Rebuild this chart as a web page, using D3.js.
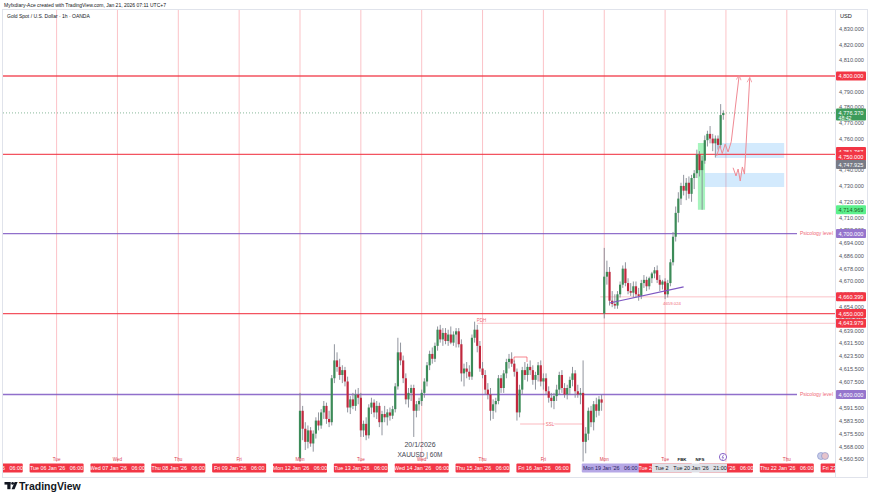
<!DOCTYPE html>
<html>
<head>
<meta charset="utf-8">
<style>
  body { margin: 0; background: #fff; }
  svg { display: block; font-family: "Liberation Sans", Arial, sans-serif; }
</style>
</head>
<body>
<script src="https://cdnjs.cloudflare.com/ajax/libs/d3/7.8.5/d3.min.js"></script>
<script>
// XAUUSD 1h candles, [open, high, low, close]; each day starts at 06:00
var mon12 = [
  [4561,4601,4559,4590],[4590,4593,4572,4579],[4579,4583,4566,4571],[4571,4581,4567,4578],
  [4578,4580,4568,4570],[4570,4578,4565,4576],[4576,4586,4573,4584],[4584,4589,4578,4581],
  [4581,4591,4579,4589],[4589,4596,4585,4593],[4593,4595,4582,4585],[4585,4590,4580,4583],
  [4583,4612,4581,4610],[4610,4631,4607,4621],[4621,4626,4614,4617],[4617,4622,4609,4612],
  [4612,4618,4607,4615],[4615,4617,4605,4608],[4608,4611,4589,4592],[4592,4599,4588,4597],
  [4597,4601,4591,4593],[4593,4603,4590,4600],[4600,4604,4594,4598]
];
var tue13 = [
  [4598,4601,4574,4578],[4578,4584,4574,4582],[4582,4586,4572,4575],[4575,4594,4573,4592],
  [4592,4598,4588,4595],[4595,4597,4586,4589],[4589,4596,4585,4593],[4593,4595,4580,4583],
  [4583,4590,4575,4588],[4588,4593,4583,4586],[4586,4591,4581,4589],[4589,4592,4584,4587],
  [4587,4593,4585,4591],[4591,4607,4589,4605],[4605,4635,4603,4626],[4626,4632,4618,4621],
  [4621,4624,4607,4610],[4610,4613,4594,4597],[4597,4604,4592,4601],[4601,4606,4596,4604],
  [4604,4606,4574,4590],[4590,4596,4586,4594],[4594,4598,4590,4596]
];
var wed14 = [
  [4596,4603,4593,4601],[4601,4610,4598,4608],[4608,4620,4605,4618],[4618,4627,4615,4625],
  [4625,4629,4619,4622],[4622,4632,4620,4630],[4630,4642,4627,4640],[4640,4643,4632,4634],
  [4634,4641,4630,4638],[4638,4641,4631,4633],[4633,4640,4630,4637],[4637,4642,4631,4632],
  [4632,4639,4630,4637],[4637,4641,4629,4639],[4639,4641,4629,4631],[4631,4634,4608,4613],
  [4613,4619,4605,4616],[4616,4620,4610,4614],[4614,4618,4609,4611],[4611,4637,4609,4635],
  [4635,4645,4632,4640],[4640,4643,4626,4630],[4630,4633,4614,4616]
];
var thu15 = [
  [4616,4620,4610,4612],[4612,4615,4600,4603],[4603,4607,4597,4600],[4600,4604,4584,4590],
  [4590,4597,4585,4594],[4594,4598,4589,4596],[4596,4612,4594,4610],[4610,4612,4601,4604],
  [4604,4615,4601,4613],[4613,4622,4610,4620],[4620,4625,4616,4622],[4622,4626,4617,4619],
  [4619,4621,4611,4614],[4614,4616,4584,4589],[4589,4606,4586,4603],[4603,4617,4600,4615],
  [4615,4620,4609,4612],[4612,4619,4608,4617],[4617,4621,4612,4615],[4615,4618,4606,4609],
  [4609,4614,4603,4612],[4612,4620,4608,4618],[4618,4621,4605,4608]
];
var fri16 = [
  [4608,4613,4603,4610],[4610,4613,4600,4602],[4602,4605,4595,4598],[4598,4601,4592,4596],
  [4596,4601,4591,4599],[4599,4606,4596,4603],[4603,4614,4600,4612],[4612,4615,4601,4604],
  [4604,4607,4598,4600],[4600,4606,4597,4604],[4604,4611,4600,4609],[4609,4617,4605,4613],
  [4613,4615,4598,4602],[4602,4606,4598,4600],[4600,4604,4594,4601],[4601,4621,4559,4571],
  [4571,4580,4564,4576],[4576,4592,4572,4590],[4590,4593,4580,4583],[4583,4596,4578,4594],
  [4594,4598,4586,4590],[4590,4599,4587,4597],[4597,4600,4590,4595]
];
var mon19 = [
  [4650,4691,4647,4673],[4673,4683,4668,4676],[4676,4679,4655,4658],[4658,4664,4654,4656],
  [4656,4662,4653,4655],[4655,4664,4653,4662],[4662,4670,4660,4668],[4668,4680,4666,4678],
  [4678,4682,4667,4669],[4669,4672,4662,4664],[4664,4669,4661,4663],[4663,4670,4660,4667],
  [4667,4670,4660,4662],[4662,4666,4658,4661],[4661,4671,4659,4669],[4669,4674,4666,4671],
  [4671,4673,4664,4667],[4667,4673,4665,4672],[4672,4676,4669,4675],[4675,4679,4672,4677],
  [4677,4680,4669,4671],[4671,4674,4664,4668],[4668,4671,4665,4670]
];
var tue20 = [
  [4670,4672,4659,4662],[4662,4671,4660,4669],[4669,4684,4667,4682],[4682,4701,4680,4698],
  [4698,4717,4695,4713],[4713,4726,4707,4722],[4722,4732,4718,4730],[4730,4737,4724,4727],
  [4727,4735,4721,4732],[4732,4736,4722,4725],[4725,4737,4720,4735],[4735,4740,4728,4738],
  [4738,4753,4735,4750],[4750,4752,4736,4740],[4740,4749,4714.969,4746],[4746,4762,4744,4759],
  [4759,4765,4755,4763],[4763,4768,4757,4760],[4760,4763,4752,4757],[4757,4762,4748,4760],
  [4760,4762,4753,4756],[4756,4782,4754,4775],[4775,4778,4772,4776.37]
];
var tradingDays = [mon12, tue13, wed14, thu15, fri16, mon19, tue20];

// time axis: day offset from Mon 12 Jan, label
var dayOffsets = [-5, -4, -3, -2, -1, 0, 1, 2, 3, 4, 5, 6, 7, 8, 9];
var dayDates = ["Mon 05 Jan '26", "Tue 06 Jan '26", "Wed 07 Jan '26", "Thu 08 Jan '26", "Fri 09 Jan '26",
  "Mon 12 Jan '26", "Tue 13 Jan '26", "Wed 14 Jan '26", "Thu 15 Jan '26", "Fri 16 Jan '26",
  "Mon 19 Jan '26", "Tue 20 Jan '26", "Wed 21 Jan '26", "Thu 22 Jan '26", "Fri 23 Jan '26"];
var dayNames = ["", "Tue", "Wed", "Thu", "Fri", "Mon", "Tue", "Wed", "Thu", "Fri", "Mon", "Tue", "", "Thu", ""];

// price axis
var priceTicks = [4830, 4820, 4810, 4800, 4790, 4780, 4770, 4760, 4750, 4740, 4730, 4720, 4710, 4702,
  4694, 4686, 4678, 4670, 4662, 4654, 4646.5, 4639, 4631.5, 4623.5, 4615.5, 4607.5, 4599.5,
  4591.5, 4583.5, 4575.5, 4568, 4560.5];
var redLevels = [4800, 4750, 4650];
var purpleLevels = [4700, 4600];
var axisLabels = [
  { price: 4800, text: "4,800.000", kind: "red" },
  { price: 4776.37, text: "4,776.370", sub: "48:42", kind: "last" },
  { price: 4751.767, text: "4,751.767", kind: "red" },
  { price: 4750, text: "4,750.000", kind: "red" },
  { price: 4747.925, text: "4,747.925", kind: "gray" },
  { price: 4714.969, text: "4,714.969", kind: "lime" },
  { price: 4700, text: "4,700.000", kind: "purple" },
  { price: 4660.399, text: "4,660.399", kind: "red" },
  { price: 4650, text: "4,650.000", kind: "red" },
  { price: 4643.979, text: "4,643.979", kind: "red" },
  { price: 4600, text: "4,600.000", kind: "purple" }
];

// drawings, in [bar index, price]
var zones = [[157, 183, 4747.7, 4757.2], [153, 183, 4729.3, 4738.2]];
var pathUp1 = [[157.5, 4749], [158.7, 4755.5], [159.6, 4750.5], [160.7, 4756.5], [161.8, 4751.5], [163, 4758], [166, 4800.5]];
var pathUp2 = [[163.7, 4741.5], [164.8, 4736.3], [165.6, 4740.7], [166.4, 4733.1], [167.2, 4742], [168, 4737.5], [170, 4799]];
var trendLine = [[117, 4656.6], [145, 4666.6]];

var W = 870, H = 497;
var plotL = 3, plotR = 835, plotT = 10, plotB = 462;
var RED = "#f23645", PURPLE = "#7e57c2", UP = "#3c8b58", DOWN = "#c1283e", WICK = "#858993";

var x = d3.scaleLinear().domain([0, 23]).range([300, 360.85]);
var y = d3.scaleLog().domain([4558.7, 4843.8]).range([462, 8]);

var svg = d3.select("body").append("svg").attr("width", W).attr("height", H);
svg.append("rect").attr("width", W).attr("height", H).attr("fill", "#fff");

var defs = svg.append("defs");
defs.append("clipPath").attr("id", "plot").append("rect")
  .attr("x", plotL).attr("y", plotT).attr("width", plotR - plotL).attr("height", plotB - plotT);
defs.append("clipPath").attr("id", "taxis").append("rect")
  .attr("x", plotL).attr("y", plotT).attr("width", plotR - plotL).attr("height", 470);
defs.append("marker").attr("id", "arr").attr("viewBox", "0 0 10 10").attr("refX", 9).attr("refY", 5)
  .attr("markerWidth", 6).attr("markerHeight", 6).attr("orient", "auto")
  .append("path").attr("d", "M1,1 L9,5 L1,9").attr("fill", "none").attr("stroke", "#f08a94").attr("stroke-width", 1.2);

// frame
svg.append("rect").attr("x", 2.5).attr("y", 9.5).attr("width", 865).attr("height", 468)
  .attr("fill", "none").attr("stroke", "#e0e3eb");
svg.append("line").attr("x1", plotR + 0.5).attr("x2", plotR + 0.5).attr("y1", 10).attr("y2", 477)
  .attr("stroke", "#e0e3eb");

// header
svg.append("text").attr("x", 4).attr("y", 6.5).attr("font-size", 5).attr("fill", "#131722")
  .text("Myfxdiary-Ace created with TradingView.com, Jan 21, 2026 07:11 UTC+7");

var plot = svg.append("g").attr("clip-path", "url(#plot)");

// day separators at 06:00
plot.selectAll(".vday").data(dayOffsets).enter().append("line")
  .attr("x1", function(d) { return x(d * 23); }).attr("x2", function(d) { return x(d * 23); })
  .attr("y1", plotT).attr("y2", plotB)
  .attr("stroke", "rgba(242,54,69,0.3)").attr("stroke-width", 1);

plot.append("text").attr("x", 7).attr("y", 18).attr("font-size", 5).attr("fill", "#131722")
  .text("Gold Spot / U.S. Dollar \u00b7 1h \u00b7 OANDA");

// zones
plot.selectAll(".zone").data(zones).enter().append("rect")
  .attr("x", function(d) { return x(d[0]); })
  .attr("width", function(d) { return x(d[1]) - x(d[0]); })
  .attr("y", function(d) { return y(d[3]); })
  .attr("height", function(d) { return y(d[2]) - y(d[3]); })
  .attr("fill", "rgba(33,150,243,0.2)");

// highlighted sweep candle
plot.append("rect").attr("x", x(150.4)).attr("width", x(153.1) - x(150.4))
  .attr("y", y(4757.2)).attr("height", y(4714.969) - y(4757.2))
  .attr("fill", "rgba(60,230,110,0.45)");

// horizontal levels
plot.selectAll(".red").data(redLevels).enter().append("line")
  .attr("x1", plotL).attr("x2", plotR)
  .attr("y1", function(d) { return y(d); }).attr("y2", function(d) { return y(d); })
  .attr("stroke", RED).attr("stroke-width", 1.3).attr("opacity", 0.85);
plot.selectAll(".pur").data(purpleLevels).enter().append("line")
  .attr("x1", plotL).attr("x2", 797)
  .attr("y1", function(d) { return y(d); }).attr("y2", function(d) { return y(d); })
  .attr("stroke", PURPLE).attr("stroke-width", 1.3).attr("opacity", 0.85);
svg.selectAll(".purtxt").data(purpleLevels).enter().append("text")
  .attr("x", 833).attr("y", function(d) { return y(d) + 1.8; }).attr("text-anchor", "end")
  .attr("font-size", 5).attr("fill", "#ef6a78").text("Psicology level");

// thin rays
plot.append("line").attr("x1", x(113.5)).attr("x2", plotR).attr("y1", y(4660.399)).attr("y2", y(4660.399))
  .attr("stroke", "rgba(242,54,69,0.3)");
plot.append("line").attr("x1", x(67)).attr("x2", plotR).attr("y1", y(4643.979)).attr("y2", y(4643.979))
  .attr("stroke", "rgba(242,54,69,0.3)");
plot.append("text").attr("x", x(68.6)).attr("y", y(4643.979) - 1.5).attr("font-size", 4.5)
  .attr("fill", "#ef6a78").attr("text-anchor", "middle").text("PDH");
plot.append("line").attr("x1", x(83.2)).attr("x2", x(107)).attr("y1", y(4581.9)).attr("y2", y(4581.9))
  .attr("stroke", "rgba(242,54,69,0.35)");
plot.append("text").attr("x", x(94.5)).attr("y", y(4581.9) + 1.6).attr("font-size", 4.5)
  .attr("fill", "#ef6a78").attr("text-anchor", "middle").attr("stroke", "#fff").attr("stroke-width", 2)
  .attr("paint-order", "stroke").text("SSL");
plot.append("path")
  .attr("d", "M" + x(80.9) + "," + y(4620) + "V" + y(4623.1) + "H" + x(85.8) + "V" + y(4620))
  .attr("fill", "none").attr("stroke", "rgba(242,54,69,0.6)");

// dotted last price line
plot.append("line").attr("x1", plotL).attr("x2", plotR).attr("y1", y(4776.37)).attr("y2", y(4776.37))
  .attr("stroke", "#3c8b58").attr("stroke-dasharray", "1,2").attr("opacity", 0.6);

// candles
var candles = [];
tradingDays.forEach(function(day, k) {
  day.forEach(function(c, i) {
    candles.push({ i: k * 23 + i, o: c[0], h: c[1], l: c[2], c: c[3] });
  });
});
var cg = plot.append("g");
cg.selectAll(".wick").data(candles).enter().append("line")
  .attr("x1", function(d) { return x(d.i); }).attr("x2", function(d) { return x(d.i); })
  .attr("y1", function(d) { return y(d.h); }).attr("y2", function(d) { return y(d.l); })
  .attr("stroke", WICK).attr("stroke-width", 0.9);
cg.selectAll(".body").data(candles).enter().append("rect")
  .attr("x", function(d) { return x(d.i) - 1.1; }).attr("width", 2.2)
  .attr("y", function(d) { return y(Math.max(d.o, d.c)); })
  .attr("height", function(d) { return Math.max(1, Math.abs(y(d.o) - y(d.c))); })
  .attr("fill", function(d) { return d.c >= d.o ? UP : DOWN; });

// trend line and its note
plot.append("line").attr("x1", x(trendLine[0][0])).attr("y1", y(trendLine[0][1]))
  .attr("x2", x(trendLine[1][0])).attr("y2", y(trendLine[1][1]))
  .attr("stroke", PURPLE).attr("stroke-width", 1.2);
plot.append("text").attr("x", x(140.6)).attr("y", y(4659.024) + 5.5).attr("font-size", 4.3)
  .attr("fill", "#ef6a78").attr("text-anchor", "middle").text("4659.024");

// projection arrows
var line = d3.line().x(function(d) { return x(d[0]); }).y(function(d) { return y(d[1]); });
[pathUp1, pathUp2].forEach(function(p) {
  plot.append("path").attr("d", line(p)).attr("fill", "none")
    .attr("stroke", "#f08a94").attr("stroke-width", 1).attr("marker-end", "url(#arr)");
});

// watermark text
plot.append("text").attr("x", 420).attr("y", 447).attr("font-size", 7).attr("fill", "#434651")
  .attr("text-anchor", "middle").text("20/1/2026");
plot.append("text").attr("x", 420).attr("y", 457).attr("font-size", 6.5).attr("fill", "#434651")
  .attr("text-anchor", "middle").text("XAUUSD | 60M");

// price axis ticks
svg.append("text").attr("x", 840).attr("y", 18).attr("font-size", 5.6).attr("fill", "#131722").text("USD");
svg.selectAll(".tick").data(priceTicks).enter().append("text")
  .attr("x", 839).attr("y", function(d) { return y(d) + 2; })
  .attr("font-size", 5.6).attr("fill", "#50535e").text(d3.format(",.3f"));

// price axis labels
var kinds = {
  red: { bg: RED, fg: "#fff" }, purple: { bg: "#9575cd", fg: "#fff" }, gray: { bg: "#787b86", fg: "#fff" },
  last: { bg: "#3c9b5a", fg: "#fff" }, lime: { bg: "#5cf08c", fg: "#1b5e20" }
};
var prevY = -100, prevKind = "";
axisLabels.forEach(function(d) {
  var cy = y(d.price);
  var gap = d.kind === prevKind ? 5 : 8;
  if (cy - prevY < gap) cy = prevY + gap;
  prevY = cy; prevKind = d.kind;
  var k = kinds[d.kind];
  var hgt = d.sub ? 12 : 9;
  svg.append("rect").attr("x", 836).attr("y", cy - 4.5).attr("width", 30).attr("height", hgt)
    .attr("rx", 1).attr("fill", k.bg);
  svg.append("text").attr("x", 838.5).attr("y", cy + 2).attr("font-size", 5.6).attr("fill", k.fg).text(d.text);
  if (d.sub) svg.append("text").attr("x", 838.5).attr("y", cy + 7.2).attr("font-size", 5.2).attr("fill", k.fg).text(d.sub);
});

// time axis labels
var ta = svg.append("g").attr("clip-path", "url(#taxis)");
dayOffsets.forEach(function(d, j) {
  var cx = x(d * 23);
  if (dayNames[j]) ta.append("text").attr("x", cx).attr("y", 461).attr("font-size", 4.6)
    .attr("fill", "#d9414f").attr("text-anchor", "middle").text(dayNames[j]);
});
dayOffsets.forEach(function(d, j) {
  var cx = x(d * 23), mon19 = dayDates[j] === "Mon 19 Jan '26";
  if (mon19) return;
  ta.append("rect").attr("x", cx - 27).attr("y", 463.5).attr("width", 54).attr("height", 9)
    .attr("rx", 1).attr("fill", RED);
  ta.append("text").attr("x", cx).attr("y", 470).attr("font-size", 5.4).attr("fill", "#fff")
    .attr("text-anchor", "middle").attr("xml:space", "preserve").text(dayDates[j] + "   06:00");
});
// selected line label
var m19 = x(5 * 23) + 6;
ta.append("rect").attr("x", m19 - 28.5).attr("y", 463.5).attr("width", 57).attr("height", 9)
  .attr("rx", 1).attr("fill", "#b6a8e6");
ta.append("text").attr("x", m19).attr("y", 470).attr("font-size", 5.4).attr("fill", "#2a2160")
  .attr("text-anchor", "middle").attr("xml:space", "preserve").text("Mon 19 Jan '26   06:00");
// crosshair time
ta.append("rect").attr("x", 652).attr("y", 463.5).attr("width", 75).attr("height", 9).attr("fill", "#dfe1e8");
ta.append("text").attr("x", 655).attr("y", 470).attr("font-size", 5.4).attr("fill", "#131722").text("Tue 2");
ta.append("text").attr("x", 700).attr("y", 470).attr("font-size", 5.4).attr("fill", "#131722")
  .attr("text-anchor", "middle").attr("xml:space", "preserve").text("Tue 20 Jan '26   21:00");
ta.append("text").attr("x", 682).attr("y", 461).attr("font-size", 4.4).attr("font-weight", "bold")
  .attr("fill", "#131722").attr("text-anchor", "middle").text("FBK");
ta.append("text").attr("x", 700).attr("y", 461).attr("font-size", 4.4).attr("font-weight", "bold")
  .attr("fill", "#131722").attr("text-anchor", "middle").text("NFS");
// event icons
svg.append("circle").attr("cx", 723).attr("cy", 457).attr("r", 3.6).attr("fill", "#fff")
  .attr("stroke", "#7e57c2").attr("stroke-width", 0.9);
svg.append("path").attr("d", "M723.8,454.6 L722,457.4 L723.6,457.4 L722.4,459.6").attr("fill", "none")
  .attr("stroke", "#7e57c2").attr("stroke-width", 0.7);
svg.append("circle").attr("cx", 821).attr("cy", 456).attr("r", 3.5).attr("fill", "#c7cde8").attr("stroke", "#7f8bc7").attr("stroke-width", 0.6);
svg.append("circle").attr("cx", 825).attr("cy", 456).attr("r", 3.5).attr("fill", "#e6c4cc").attr("stroke", "#7f8bc7").attr("stroke-width", 0.6);

// footer logo
var logo = svg.append("g").attr("fill", "#131722");
logo.append("rect").attr("x", 4.5).attr("y", 482).attr("width", 6).attr("height", 2.6);
logo.append("rect").attr("x", 7.3).attr("y", 482).attr("width", 3.2).attr("height", 7.2);
logo.append("circle").attr("cx", 12.6).attr("cy", 483.4).attr("r", 1.4);
logo.append("path").attr("d", "M14.6,482 L17.6,482 L14.6,489.2 L11.6,489.2 Z");
svg.append("text").attr("x", 19).attr("y", 489.5).attr("font-size", 10.5).attr("font-weight", "bold")
  .attr("fill", "#131722").text("TradingView");
</script>
</body>
</html>
